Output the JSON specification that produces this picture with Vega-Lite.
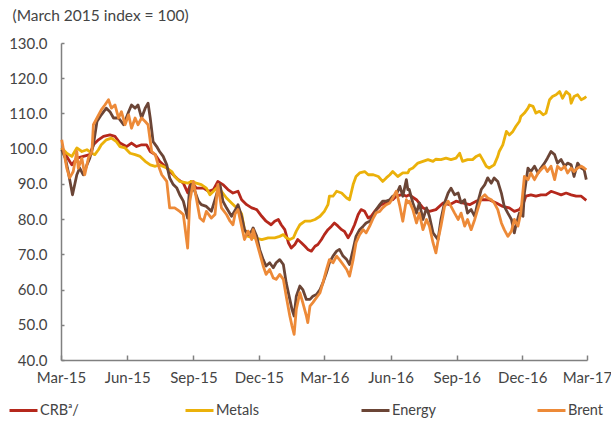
{
"$schema": "https://vega.github.io/schema/vega-lite/v6.json",
"width": 526, "height": 317,
"autosize": {"type": "none"},
"padding": {"left": 61, "top": 43, "right": 24, "bottom": 64},
"background": "white",
"config": {"view": {"stroke": null}, "font": "Lato"},
"data": {"values": [
{"d":"2015-03-02","s":"CRB","v":100.2},{"d":"2015-03-09","s":"CRB","v":97.8},{"d":"2015-03-16","s":"CRB","v":95.4},{"d":"2015-03-23","s":"CRB","v":97.3},{"d":"2015-04-01","s":"CRB","v":97.8},{"d":"2015-04-10","s":"CRB","v":98.3},{"d":"2015-04-15","s":"CRB","v":101.1},{"d":"2015-04-22","s":"CRB","v":102.5},{"d":"2015-04-29","s":"CRB","v":103.5},{"d":"2015-05-08","s":"CRB","v":103.9},{"d":"2015-05-15","s":"CRB","v":103.5},{"d":"2015-05-22","s":"CRB","v":101.6},{"d":"2015-05-31","s":"CRB","v":100.6},{"d":"2015-06-07","s":"CRB","v":101.6},{"d":"2015-06-14","s":"CRB","v":100.6},{"d":"2015-06-21","s":"CRB","v":101.1},{"d":"2015-06-28","s":"CRB","v":101.1},{"d":"2015-07-03","s":"CRB","v":99.2},{"d":"2015-07-10","s":"CRB","v":98.3},{"d":"2015-07-16","s":"CRB","v":96.4},{"d":"2015-07-26","s":"CRB","v":94.5},{"d":"2015-08-04","s":"CRB","v":92.6},{"d":"2015-08-11","s":"CRB","v":91.2},{"d":"2015-08-18","s":"CRB","v":90.2},{"d":"2015-08-24","s":"CRB","v":87.5},{"d":"2015-08-29","s":"CRB","v":90.7},{"d":"2015-09-05","s":"CRB","v":88.8},{"d":"2015-09-15","s":"CRB","v":88.8},{"d":"2015-09-22","s":"CRB","v":87.9},{"d":"2015-09-29","s":"CRB","v":88.4},{"d":"2015-10-05","s":"CRB","v":90.7},{"d":"2015-10-12","s":"CRB","v":89.8},{"d":"2015-10-19","s":"CRB","v":88.4},{"d":"2015-10-26","s":"CRB","v":87.4},{"d":"2015-11-02","s":"CRB","v":87.9},{"d":"2015-11-07","s":"CRB","v":85.5},{"d":"2015-11-14","s":"CRB","v":84.1},{"d":"2015-11-21","s":"CRB","v":83.2},{"d":"2015-11-28","s":"CRB","v":82.7},{"d":"2015-12-05","s":"CRB","v":80.8},{"d":"2015-12-11","s":"CRB","v":79.4},{"d":"2015-12-18","s":"CRB","v":78.4},{"d":"2015-12-23","s":"CRB","v":79.4},{"d":"2015-12-28","s":"CRB","v":79.9},{"d":"2016-01-01","s":"CRB","v":78.4},{"d":"2016-01-06","s":"CRB","v":77.0},{"d":"2016-01-11","s":"CRB","v":73.3},{"d":"2016-01-15","s":"CRB","v":71.8},{"d":"2016-01-20","s":"CRB","v":72.8},{"d":"2016-01-24","s":"CRB","v":74.2},{"d":"2016-01-29","s":"CRB","v":73.3},{"d":"2016-02-03","s":"CRB","v":72.3},{"d":"2016-02-07","s":"CRB","v":71.4},{"d":"2016-02-12","s":"CRB","v":70.9},{"d":"2016-02-17","s":"CRB","v":72.3},{"d":"2016-02-21","s":"CRB","v":72.8},{"d":"2016-02-26","s":"CRB","v":74.2},{"d":"2016-03-01","s":"CRB","v":75.6},{"d":"2016-03-06","s":"CRB","v":77.0},{"d":"2016-03-11","s":"CRB","v":78.0},{"d":"2016-03-15","s":"CRB","v":78.9},{"d":"2016-03-20","s":"CRB","v":78.0},{"d":"2016-03-25","s":"CRB","v":77.0},{"d":"2016-03-29","s":"CRB","v":76.5},{"d":"2016-04-03","s":"CRB","v":74.7},{"d":"2016-04-07","s":"CRB","v":76.1},{"d":"2016-04-12","s":"CRB","v":78.4},{"d":"2016-04-17","s":"CRB","v":81.3},{"d":"2016-04-21","s":"CRB","v":82.7},{"d":"2016-04-26","s":"CRB","v":82.2},{"d":"2016-05-01","s":"CRB","v":80.3},{"d":"2016-05-05","s":"CRB","v":80.8},{"d":"2016-05-10","s":"CRB","v":82.2},{"d":"2016-05-15","s":"CRB","v":83.2},{"d":"2016-05-19","s":"CRB","v":84.1},{"d":"2016-05-26","s":"CRB","v":84.6},{"d":"2016-05-31","s":"CRB","v":85.3},{"d":"2016-06-04","s":"CRB","v":85.5},{"d":"2016-06-09","s":"CRB","v":86.5},{"d":"2016-06-18","s":"CRB","v":87.0},{"d":"2016-06-23","s":"CRB","v":86.5},{"d":"2016-06-27","s":"CRB","v":86.9},{"d":"2016-07-07","s":"CRB","v":85.5},{"d":"2016-07-16","s":"CRB","v":83.2},{"d":"2016-07-25","s":"CRB","v":82.2},{"d":"2016-08-03","s":"CRB","v":82.7},{"d":"2016-08-13","s":"CRB","v":84.6},{"d":"2016-08-22","s":"CRB","v":84.1},{"d":"2016-08-31","s":"CRB","v":85.1},{"d":"2016-09-09","s":"CRB","v":84.6},{"d":"2016-09-19","s":"CRB","v":84.1},{"d":"2016-09-28","s":"CRB","v":85.1},{"d":"2016-10-07","s":"CRB","v":85.5},{"d":"2016-10-16","s":"CRB","v":85.5},{"d":"2016-10-26","s":"CRB","v":84.6},{"d":"2016-11-04","s":"CRB","v":83.6},{"d":"2016-11-13","s":"CRB","v":83.2},{"d":"2016-11-20","s":"CRB","v":82.2},{"d":"2016-11-27","s":"CRB","v":82.7},{"d":"2016-12-02","s":"CRB","v":84.1},{"d":"2016-12-06","s":"CRB","v":86.5},{"d":"2016-12-13","s":"CRB","v":86.9},{"d":"2016-12-20","s":"CRB","v":86.5},{"d":"2016-12-27","s":"CRB","v":86.9},{"d":"2017-01-03","s":"CRB","v":86.9},{"d":"2017-01-10","s":"CRB","v":87.9},{"d":"2017-01-17","s":"CRB","v":87.4},{"d":"2017-01-24","s":"CRB","v":86.9},{"d":"2017-01-31","s":"CRB","v":87.4},{"d":"2017-02-07","s":"CRB","v":86.9},{"d":"2017-02-14","s":"CRB","v":86.5},{"d":"2017-02-21","s":"CRB","v":86.5},{"d":"2017-02-28","s":"CRB","v":85.3},
{"d":"2015-03-02","s":"Metals","v":100.2},{"d":"2015-03-09","s":"Metals","v":98.7},{"d":"2015-03-16","s":"Metals","v":97.8},{"d":"2015-03-23","s":"Metals","v":100.2},{"d":"2015-03-30","s":"Metals","v":99.2},{"d":"2015-04-06","s":"Metals","v":99.7},{"d":"2015-04-13","s":"Metals","v":98.7},{"d":"2015-04-17","s":"Metals","v":98.3},{"d":"2015-04-22","s":"Metals","v":99.7},{"d":"2015-04-26","s":"Metals","v":101.1},{"d":"2015-05-03","s":"Metals","v":102.5},{"d":"2015-05-10","s":"Metals","v":103.0},{"d":"2015-05-17","s":"Metals","v":102.0},{"d":"2015-05-22","s":"Metals","v":100.6},{"d":"2015-05-29","s":"Metals","v":100.2},{"d":"2015-06-05","s":"Metals","v":98.7},{"d":"2015-06-12","s":"Metals","v":98.3},{"d":"2015-06-19","s":"Metals","v":97.8},{"d":"2015-06-26","s":"Metals","v":96.4},{"d":"2015-07-03","s":"Metals","v":95.4},{"d":"2015-07-10","s":"Metals","v":95.0},{"d":"2015-07-16","s":"Metals","v":95.4},{"d":"2015-07-26","s":"Metals","v":94.5},{"d":"2015-08-02","s":"Metals","v":93.5},{"d":"2015-08-06","s":"Metals","v":92.1},{"d":"2015-08-13","s":"Metals","v":90.7},{"d":"2015-08-24","s":"Metals","v":90.2},{"d":"2015-08-29","s":"Metals","v":90.7},{"d":"2015-09-05","s":"Metals","v":90.2},{"d":"2015-09-12","s":"Metals","v":89.8},{"d":"2015-09-19","s":"Metals","v":88.8},{"d":"2015-09-24","s":"Metals","v":86.9},{"d":"2015-09-29","s":"Metals","v":87.9},{"d":"2015-10-03","s":"Metals","v":88.8},{"d":"2015-10-10","s":"Metals","v":87.9},{"d":"2015-10-17","s":"Metals","v":86.0},{"d":"2015-10-24","s":"Metals","v":84.6},{"d":"2015-10-29","s":"Metals","v":83.6},{"d":"2015-11-02","s":"Metals","v":83.0},{"d":"2015-11-07","s":"Metals","v":81.5},{"d":"2015-11-11","s":"Metals","v":77.0},{"d":"2015-11-16","s":"Metals","v":75.1},{"d":"2015-11-25","s":"Metals","v":74.7},{"d":"2015-12-05","s":"Metals","v":74.2},{"d":"2015-12-14","s":"Metals","v":74.7},{"d":"2015-12-23","s":"Metals","v":74.7},{"d":"2015-12-30","s":"Metals","v":75.1},{"d":"2016-01-04","s":"Metals","v":75.6},{"d":"2016-01-08","s":"Metals","v":74.7},{"d":"2016-01-13","s":"Metals","v":74.2},{"d":"2016-01-18","s":"Metals","v":74.7},{"d":"2016-01-22","s":"Metals","v":76.6},{"d":"2016-01-27","s":"Metals","v":78.4},{"d":"2016-02-03","s":"Metals","v":79.4},{"d":"2016-02-10","s":"Metals","v":79.4},{"d":"2016-02-17","s":"Metals","v":79.9},{"d":"2016-02-24","s":"Metals","v":80.8},{"d":"2016-03-01","s":"Metals","v":82.2},{"d":"2016-03-06","s":"Metals","v":84.1},{"d":"2016-03-08","s":"Metals","v":86.5},{"d":"2016-03-13","s":"Metals","v":86.5},{"d":"2016-03-18","s":"Metals","v":87.9},{"d":"2016-03-25","s":"Metals","v":87.4},{"d":"2016-04-01","s":"Metals","v":86.0},{"d":"2016-04-05","s":"Metals","v":85.5},{"d":"2016-04-10","s":"Metals","v":89.8},{"d":"2016-04-14","s":"Metals","v":92.1},{"d":"2016-04-19","s":"Metals","v":93.1},{"d":"2016-04-26","s":"Metals","v":93.5},{"d":"2016-05-01","s":"Metals","v":92.6},{"d":"2016-05-08","s":"Metals","v":92.6},{"d":"2016-05-15","s":"Metals","v":92.1},{"d":"2016-05-21","s":"Metals","v":90.7},{"d":"2016-05-26","s":"Metals","v":91.7},{"d":"2016-05-31","s":"Metals","v":92.6},{"d":"2016-06-04","s":"Metals","v":93.5},{"d":"2016-06-11","s":"Metals","v":92.1},{"d":"2016-06-18","s":"Metals","v":93.1},{"d":"2016-06-25","s":"Metals","v":93.1},{"d":"2016-06-27","s":"Metals","v":94.0},{"d":"2016-07-02","s":"Metals","v":94.5},{"d":"2016-07-09","s":"Metals","v":95.9},{"d":"2016-07-16","s":"Metals","v":96.4},{"d":"2016-07-23","s":"Metals","v":96.9},{"d":"2016-07-30","s":"Metals","v":96.4},{"d":"2016-08-03","s":"Metals","v":97.0},{"d":"2016-08-10","s":"Metals","v":96.9},{"d":"2016-08-17","s":"Metals","v":97.3},{"d":"2016-08-24","s":"Metals","v":96.9},{"d":"2016-08-31","s":"Metals","v":97.3},{"d":"2016-09-05","s":"Metals","v":98.7},{"d":"2016-09-09","s":"Metals","v":96.4},{"d":"2016-09-16","s":"Metals","v":96.9},{"d":"2016-09-23","s":"Metals","v":96.9},{"d":"2016-09-28","s":"Metals","v":97.8},{"d":"2016-10-03","s":"Metals","v":98.3},{"d":"2016-10-07","s":"Metals","v":96.9},{"d":"2016-10-12","s":"Metals","v":95.0},{"d":"2016-10-16","s":"Metals","v":94.5},{"d":"2016-10-23","s":"Metals","v":95.4},{"d":"2016-10-28","s":"Metals","v":97.8},{"d":"2016-10-30","s":"Metals","v":99.2},{"d":"2016-11-04","s":"Metals","v":101.1},{"d":"2016-11-09","s":"Metals","v":104.9},{"d":"2016-11-13","s":"Metals","v":103.9},{"d":"2016-11-18","s":"Metals","v":104.9},{"d":"2016-11-22","s":"Metals","v":106.3},{"d":"2016-11-27","s":"Metals","v":107.7},{"d":"2016-11-29","s":"Metals","v":109.1},{"d":"2016-12-04","s":"Metals","v":110.1},{"d":"2016-12-09","s":"Metals","v":111.5},{"d":"2016-12-11","s":"Metals","v":112.4},{"d":"2016-12-16","s":"Metals","v":112.0},{"d":"2016-12-20","s":"Metals","v":110.1},{"d":"2016-12-25","s":"Metals","v":110.6},{"d":"2016-12-30","s":"Metals","v":109.6},{"d":"2017-01-03","s":"Metals","v":110.1},{"d":"2017-01-08","s":"Metals","v":113.9},{"d":"2017-01-12","s":"Metals","v":114.8},{"d":"2017-01-17","s":"Metals","v":115.3},{"d":"2017-01-22","s":"Metals","v":116.2},{"d":"2017-01-26","s":"Metals","v":114.3},{"d":"2017-01-31","s":"Metals","v":116.2},{"d":"2017-02-05","s":"Metals","v":115.3},{"d":"2017-02-07","s":"Metals","v":112.9},{"d":"2017-02-11","s":"Metals","v":114.8},{"d":"2017-02-16","s":"Metals","v":115.3},{"d":"2017-02-21","s":"Metals","v":113.9},{"d":"2017-02-25","s":"Metals","v":114.3},{"d":"2017-02-28","s":"Metals","v":114.8},
{"d":"2015-03-02","s":"Energy","v":99.7},{"d":"2015-03-07","s":"Energy","v":97.3},{"d":"2015-03-11","s":"Energy","v":93.5},{"d":"2015-03-17","s":"Energy","v":86.9},{"d":"2015-03-23","s":"Energy","v":92.6},{"d":"2015-03-27","s":"Energy","v":94.5},{"d":"2015-04-01","s":"Energy","v":92.6},{"d":"2015-04-06","s":"Energy","v":95.4},{"d":"2015-04-10","s":"Energy","v":97.3},{"d":"2015-04-15","s":"Energy","v":101.1},{"d":"2015-04-20","s":"Energy","v":107.7},{"d":"2015-04-26","s":"Energy","v":109.6},{"d":"2015-05-03","s":"Energy","v":111.5},{"d":"2015-05-08","s":"Energy","v":110.5},{"d":"2015-05-13","s":"Energy","v":108.7},{"d":"2015-05-20","s":"Energy","v":108.7},{"d":"2015-05-27","s":"Energy","v":106.8},{"d":"2015-06-03","s":"Energy","v":110.5},{"d":"2015-06-07","s":"Energy","v":112.4},{"d":"2015-06-12","s":"Energy","v":111.5},{"d":"2015-06-16","s":"Energy","v":112.4},{"d":"2015-06-21","s":"Energy","v":108.7},{"d":"2015-06-26","s":"Energy","v":111.5},{"d":"2015-06-30","s":"Energy","v":112.9},{"d":"2015-07-03","s":"Energy","v":108.7},{"d":"2015-07-07","s":"Energy","v":102.0},{"d":"2015-07-12","s":"Energy","v":100.6},{"d":"2015-07-16","s":"Energy","v":99.2},{"d":"2015-07-21","s":"Energy","v":97.8},{"d":"2015-07-26","s":"Energy","v":95.4},{"d":"2015-07-30","s":"Energy","v":91.7},{"d":"2015-08-04","s":"Energy","v":89.8},{"d":"2015-08-09","s":"Energy","v":88.8},{"d":"2015-08-13","s":"Energy","v":86.9},{"d":"2015-08-18","s":"Energy","v":85.1},{"d":"2015-08-24","s":"Energy","v":80.3},{"d":"2015-08-26","s":"Energy","v":86.9},{"d":"2015-08-29","s":"Energy","v":89.8},{"d":"2015-09-03","s":"Energy","v":87.9},{"d":"2015-09-08","s":"Energy","v":85.1},{"d":"2015-09-12","s":"Energy","v":84.1},{"d":"2015-09-19","s":"Energy","v":83.6},{"d":"2015-09-26","s":"Energy","v":82.2},{"d":"2015-10-03","s":"Energy","v":86.9},{"d":"2015-10-08","s":"Energy","v":89.8},{"d":"2015-10-12","s":"Energy","v":85.1},{"d":"2015-10-17","s":"Energy","v":83.2},{"d":"2015-10-24","s":"Energy","v":80.8},{"d":"2015-10-29","s":"Energy","v":82.5},{"d":"2015-11-02","s":"Energy","v":84.1},{"d":"2015-11-07","s":"Energy","v":80.8},{"d":"2015-11-11","s":"Energy","v":77.0},{"d":"2015-11-16","s":"Energy","v":75.6},{"d":"2015-11-21","s":"Energy","v":76.6},{"d":"2015-11-23","s":"Energy","v":77.5},{"d":"2015-11-28","s":"Energy","v":75.1},{"d":"2015-12-02","s":"Energy","v":71.4},{"d":"2015-12-07","s":"Energy","v":68.5},{"d":"2015-12-11","s":"Energy","v":66.7},{"d":"2015-12-16","s":"Energy","v":67.6},{"d":"2015-12-21","s":"Energy","v":66.2},{"d":"2015-12-25","s":"Energy","v":67.6},{"d":"2015-12-30","s":"Energy","v":68.5},{"d":"2016-01-04","s":"Energy","v":67.1},{"d":"2016-01-08","s":"Energy","v":61.9},{"d":"2016-01-13","s":"Energy","v":57.2},{"d":"2016-01-16","s":"Energy","v":54.4},{"d":"2016-01-19","s":"Energy","v":52.5},{"d":"2016-01-22","s":"Energy","v":58.1},{"d":"2016-01-27","s":"Energy","v":61.0},{"d":"2016-01-31","s":"Energy","v":60.0},{"d":"2016-02-05","s":"Energy","v":57.2},{"d":"2016-02-10","s":"Energy","v":57.2},{"d":"2016-02-14","s":"Energy","v":58.1},{"d":"2016-02-19","s":"Energy","v":58.6},{"d":"2016-02-24","s":"Energy","v":60.0},{"d":"2016-02-28","s":"Energy","v":61.9},{"d":"2016-03-04","s":"Energy","v":64.8},{"d":"2016-03-08","s":"Energy","v":67.6},{"d":"2016-03-13","s":"Energy","v":69.5},{"d":"2016-03-18","s":"Energy","v":70.9},{"d":"2016-03-22","s":"Energy","v":71.4},{"d":"2016-03-27","s":"Energy","v":69.5},{"d":"2016-04-01","s":"Energy","v":68.5},{"d":"2016-04-05","s":"Energy","v":67.1},{"d":"2016-04-10","s":"Energy","v":71.4},{"d":"2016-04-14","s":"Energy","v":75.1},{"d":"2016-04-19","s":"Energy","v":77.0},{"d":"2016-04-24","s":"Energy","v":78.0},{"d":"2016-04-28","s":"Energy","v":78.9},{"d":"2016-05-03","s":"Energy","v":79.4},{"d":"2016-05-08","s":"Energy","v":80.8},{"d":"2016-05-12","s":"Energy","v":82.7},{"d":"2016-05-17","s":"Energy","v":84.1},{"d":"2016-05-21","s":"Energy","v":85.1},{"d":"2016-05-26","s":"Energy","v":85.1},{"d":"2016-05-31","s":"Energy","v":85.5},{"d":"2016-06-04","s":"Energy","v":86.5},{"d":"2016-06-09","s":"Energy","v":87.0},{"d":"2016-06-14","s":"Energy","v":89.3},{"d":"2016-06-18","s":"Energy","v":86.5},{"d":"2016-06-23","s":"Energy","v":91.2},{"d":"2016-06-25","s":"Energy","v":88.4},{"d":"2016-06-27","s":"Energy","v":88.4},{"d":"2016-07-02","s":"Energy","v":84.6},{"d":"2016-07-07","s":"Energy","v":81.7},{"d":"2016-07-11","s":"Energy","v":84.6},{"d":"2016-07-16","s":"Energy","v":79.9},{"d":"2016-07-21","s":"Energy","v":83.2},{"d":"2016-07-25","s":"Energy","v":80.8},{"d":"2016-07-30","s":"Energy","v":76.1},{"d":"2016-08-06","s":"Energy","v":74.2},{"d":"2016-08-10","s":"Energy","v":79.9},{"d":"2016-08-15","s":"Energy","v":84.6},{"d":"2016-08-20","s":"Energy","v":87.4},{"d":"2016-08-24","s":"Energy","v":88.8},{"d":"2016-08-29","s":"Energy","v":86.9},{"d":"2016-09-03","s":"Energy","v":87.4},{"d":"2016-09-07","s":"Energy","v":84.6},{"d":"2016-09-12","s":"Energy","v":85.5},{"d":"2016-09-16","s":"Energy","v":81.7},{"d":"2016-09-21","s":"Energy","v":82.7},{"d":"2016-09-26","s":"Energy","v":80.8},{"d":"2016-09-30","s":"Energy","v":84.6},{"d":"2016-10-05","s":"Energy","v":88.4},{"d":"2016-10-10","s":"Energy","v":89.8},{"d":"2016-10-14","s":"Energy","v":91.7},{"d":"2016-10-19","s":"Energy","v":90.2},{"d":"2016-10-23","s":"Energy","v":91.7},{"d":"2016-10-28","s":"Energy","v":90.7},{"d":"2016-11-02","s":"Energy","v":87.4},{"d":"2016-11-06","s":"Energy","v":83.6},{"d":"2016-11-11","s":"Energy","v":81.7},{"d":"2016-11-16","s":"Energy","v":79.9},{"d":"2016-11-20","s":"Energy","v":76.1},{"d":"2016-11-22","s":"Energy","v":78.0},{"d":"2016-11-27","s":"Energy","v":81.7},{"d":"2016-12-02","s":"Energy","v":80.8},{"d":"2016-12-04","s":"Energy","v":87.4},{"d":"2016-12-09","s":"Energy","v":94.5},{"d":"2016-12-13","s":"Energy","v":93.5},{"d":"2016-12-18","s":"Energy","v":95.0},{"d":"2016-12-23","s":"Energy","v":93.1},{"d":"2016-12-27","s":"Energy","v":94.5},{"d":"2017-01-01","s":"Energy","v":95.9},{"d":"2017-01-05","s":"Energy","v":97.3},{"d":"2017-01-10","s":"Energy","v":99.2},{"d":"2017-01-15","s":"Energy","v":98.3},{"d":"2017-01-19","s":"Energy","v":95.9},{"d":"2017-01-24","s":"Energy","v":96.9},{"d":"2017-01-29","s":"Energy","v":95.0},{"d":"2017-02-02","s":"Energy","v":95.9},{"d":"2017-02-07","s":"Energy","v":95.4},{"d":"2017-02-11","s":"Energy","v":92.1},{"d":"2017-02-16","s":"Energy","v":95.9},{"d":"2017-02-21","s":"Energy","v":94.5},{"d":"2017-02-25","s":"Energy","v":94.0},{"d":"2017-02-28","s":"Energy","v":91.2},
{"d":"2015-03-02","s":"Brent","v":102.5},{"d":"2015-03-04","s":"Brent","v":100.2},{"d":"2015-03-09","s":"Brent","v":94.5},{"d":"2015-03-13","s":"Brent","v":91.7},{"d":"2015-03-18","s":"Brent","v":93.5},{"d":"2015-03-23","s":"Brent","v":99.2},{"d":"2015-03-25","s":"Brent","v":94.5},{"d":"2015-03-30","s":"Brent","v":97.3},{"d":"2015-04-03","s":"Brent","v":92.6},{"d":"2015-04-08","s":"Brent","v":97.3},{"d":"2015-04-13","s":"Brent","v":99.2},{"d":"2015-04-15","s":"Brent","v":106.8},{"d":"2015-04-20","s":"Brent","v":108.7},{"d":"2015-04-26","s":"Brent","v":111.0},{"d":"2015-05-01","s":"Brent","v":112.4},{"d":"2015-05-06","s":"Brent","v":113.9},{"d":"2015-05-10","s":"Brent","v":111.5},{"d":"2015-05-15","s":"Brent","v":112.4},{"d":"2015-05-20","s":"Brent","v":108.7},{"d":"2015-05-24","s":"Brent","v":110.5},{"d":"2015-05-29","s":"Brent","v":106.8},{"d":"2015-06-03","s":"Brent","v":109.6},{"d":"2015-06-07","s":"Brent","v":105.8},{"d":"2015-06-12","s":"Brent","v":108.7},{"d":"2015-06-16","s":"Brent","v":106.8},{"d":"2015-06-21","s":"Brent","v":108.7},{"d":"2015-06-26","s":"Brent","v":107.7},{"d":"2015-06-30","s":"Brent","v":106.8},{"d":"2015-07-05","s":"Brent","v":99.2},{"d":"2015-07-10","s":"Brent","v":98.3},{"d":"2015-07-14","s":"Brent","v":95.4},{"d":"2015-07-19","s":"Brent","v":92.6},{"d":"2015-07-26","s":"Brent","v":90.7},{"d":"2015-07-30","s":"Brent","v":83.2},{"d":"2015-08-06","s":"Brent","v":83.2},{"d":"2015-08-13","s":"Brent","v":82.2},{"d":"2015-08-18","s":"Brent","v":81.3},{"d":"2015-08-24","s":"Brent","v":71.8},{"d":"2015-08-27","s":"Brent","v":85.1},{"d":"2015-09-01","s":"Brent","v":90.7},{"d":"2015-09-05","s":"Brent","v":86.0},{"d":"2015-09-10","s":"Brent","v":80.3},{"d":"2015-09-15","s":"Brent","v":79.4},{"d":"2015-09-19","s":"Brent","v":82.2},{"d":"2015-09-26","s":"Brent","v":80.3},{"d":"2015-10-01","s":"Brent","v":81.3},{"d":"2015-10-05","s":"Brent","v":89.8},{"d":"2015-10-10","s":"Brent","v":83.2},{"d":"2015-10-17","s":"Brent","v":81.3},{"d":"2015-10-22","s":"Brent","v":79.4},{"d":"2015-10-26","s":"Brent","v":78.4},{"d":"2015-10-29","s":"Brent","v":81.5},{"d":"2015-11-02","s":"Brent","v":82.7},{"d":"2015-11-07","s":"Brent","v":78.0},{"d":"2015-11-11","s":"Brent","v":74.2},{"d":"2015-11-16","s":"Brent","v":76.6},{"d":"2015-11-21","s":"Brent","v":74.2},{"d":"2015-11-23","s":"Brent","v":77.0},{"d":"2015-11-28","s":"Brent","v":73.3},{"d":"2015-12-02","s":"Brent","v":70.4},{"d":"2015-12-07","s":"Brent","v":66.7},{"d":"2015-12-11","s":"Brent","v":64.3},{"d":"2015-12-16","s":"Brent","v":65.7},{"d":"2015-12-21","s":"Brent","v":63.3},{"d":"2015-12-25","s":"Brent","v":62.9},{"d":"2015-12-30","s":"Brent","v":64.3},{"d":"2016-01-04","s":"Brent","v":62.9},{"d":"2016-01-08","s":"Brent","v":58.1},{"d":"2016-01-13","s":"Brent","v":52.5},{"d":"2016-01-16","s":"Brent","v":49.7},{"d":"2016-01-19","s":"Brent","v":47.3},{"d":"2016-01-22","s":"Brent","v":54.4},{"d":"2016-01-27","s":"Brent","v":59.1},{"d":"2016-01-31","s":"Brent","v":56.3},{"d":"2016-02-05","s":"Brent","v":52.5},{"d":"2016-02-07","s":"Brent","v":50.6},{"d":"2016-02-10","s":"Brent","v":55.3},{"d":"2016-02-14","s":"Brent","v":56.3},{"d":"2016-02-19","s":"Brent","v":57.7},{"d":"2016-02-24","s":"Brent","v":59.1},{"d":"2016-02-28","s":"Brent","v":61.9},{"d":"2016-03-04","s":"Brent","v":65.7},{"d":"2016-03-08","s":"Brent","v":68.5},{"d":"2016-03-13","s":"Brent","v":67.6},{"d":"2016-03-18","s":"Brent","v":69.5},{"d":"2016-03-22","s":"Brent","v":68.5},{"d":"2016-03-27","s":"Brent","v":67.1},{"d":"2016-04-01","s":"Brent","v":65.7},{"d":"2016-04-05","s":"Brent","v":63.8},{"d":"2016-04-10","s":"Brent","v":68.5},{"d":"2016-04-14","s":"Brent","v":73.3},{"d":"2016-04-19","s":"Brent","v":75.6},{"d":"2016-04-24","s":"Brent","v":77.0},{"d":"2016-04-28","s":"Brent","v":76.1},{"d":"2016-05-03","s":"Brent","v":78.0},{"d":"2016-05-08","s":"Brent","v":80.3},{"d":"2016-05-12","s":"Brent","v":81.8},{"d":"2016-05-17","s":"Brent","v":82.2},{"d":"2016-05-21","s":"Brent","v":83.2},{"d":"2016-05-26","s":"Brent","v":84.1},{"d":"2016-05-31","s":"Brent","v":84.6},{"d":"2016-06-04","s":"Brent","v":86.0},{"d":"2016-06-09","s":"Brent","v":87.9},{"d":"2016-06-14","s":"Brent","v":83.6},{"d":"2016-06-18","s":"Brent","v":79.4},{"d":"2016-06-23","s":"Brent","v":85.5},{"d":"2016-06-25","s":"Brent","v":84.6},{"d":"2016-06-27","s":"Brent","v":85.1},{"d":"2016-07-02","s":"Brent","v":82.7},{"d":"2016-07-07","s":"Brent","v":78.9},{"d":"2016-07-11","s":"Brent","v":81.7},{"d":"2016-07-16","s":"Brent","v":77.0},{"d":"2016-07-21","s":"Brent","v":79.9},{"d":"2016-07-25","s":"Brent","v":78.0},{"d":"2016-07-30","s":"Brent","v":73.3},{"d":"2016-08-03","s":"Brent","v":70.4},{"d":"2016-08-07","s":"Brent","v":75.1},{"d":"2016-08-10","s":"Brent","v":78.0},{"d":"2016-08-15","s":"Brent","v":83.6},{"d":"2016-08-20","s":"Brent","v":85.1},{"d":"2016-08-24","s":"Brent","v":83.6},{"d":"2016-08-29","s":"Brent","v":81.7},{"d":"2016-09-03","s":"Brent","v":79.9},{"d":"2016-09-07","s":"Brent","v":81.7},{"d":"2016-09-12","s":"Brent","v":78.0},{"d":"2016-09-16","s":"Brent","v":79.9},{"d":"2016-09-21","s":"Brent","v":77.0},{"d":"2016-09-26","s":"Brent","v":79.9},{"d":"2016-09-30","s":"Brent","v":82.7},{"d":"2016-10-05","s":"Brent","v":86.0},{"d":"2016-10-10","s":"Brent","v":86.9},{"d":"2016-10-14","s":"Brent","v":86.0},{"d":"2016-10-19","s":"Brent","v":85.5},{"d":"2016-10-23","s":"Brent","v":84.6},{"d":"2016-10-28","s":"Brent","v":82.7},{"d":"2016-11-02","s":"Brent","v":78.9},{"d":"2016-11-06","s":"Brent","v":77.0},{"d":"2016-11-11","s":"Brent","v":75.1},{"d":"2016-11-16","s":"Brent","v":76.6},{"d":"2016-11-20","s":"Brent","v":79.9},{"d":"2016-11-25","s":"Brent","v":78.0},{"d":"2016-11-29","s":"Brent","v":81.7},{"d":"2016-12-04","s":"Brent","v":92.1},{"d":"2016-12-09","s":"Brent","v":91.2},{"d":"2016-12-13","s":"Brent","v":93.1},{"d":"2016-12-18","s":"Brent","v":91.2},{"d":"2016-12-23","s":"Brent","v":93.1},{"d":"2016-12-27","s":"Brent","v":94.0},{"d":"2017-01-01","s":"Brent","v":95.0},{"d":"2017-01-05","s":"Brent","v":93.5},{"d":"2017-01-10","s":"Brent","v":95.0},{"d":"2017-01-15","s":"Brent","v":91.2},{"d":"2017-01-19","s":"Brent","v":95.0},{"d":"2017-01-24","s":"Brent","v":94.0},{"d":"2017-01-29","s":"Brent","v":95.0},{"d":"2017-02-02","s":"Brent","v":93.1},{"d":"2017-02-07","s":"Brent","v":94.5},{"d":"2017-02-11","s":"Brent","v":93.5},{"d":"2017-02-16","s":"Brent","v":94.5},{"d":"2017-02-21","s":"Brent","v":95.0},{"d":"2017-02-25","s":"Brent","v":94.5},{"d":"2017-02-28","s":"Brent","v":94.0}
]},
"mark": {"type": "line", "strokeWidth": 2.8, "strokeJoin": "round"},
"encoding": {
  "x": {"field": "d", "type": "temporal",
    "scale": {"type": "utc", "domain": [{"year": 2015, "month": 3, "date": 1, "utc": true}, {"year": 2017, "month": 3, "date": 1, "utc": true}]},
    "axis": {"title": null, "format": "%b-%y", "grid": false,
      "values": [{"year": 2015, "month": 3, "date": 1, "utc": true}, {"year": 2015, "month": 6, "date": 1, "utc": true}, {"year": 2015, "month": 9, "date": 1, "utc": true}, {"year": 2015, "month": 12, "date": 1, "utc": true}, {"year": 2016, "month": 3, "date": 1, "utc": true}, {"year": 2016, "month": 6, "date": 1, "utc": true}, {"year": 2016, "month": 9, "date": 1, "utc": true}, {"year": 2016, "month": 12, "date": 1, "utc": true}, {"year": 2017, "month": 3, "date": 1, "utc": true}],
      "domainColor": "#808080", "domainWidth": 1.5, "tickColor": "#808080", "tickWidth": 1.5, "tickSize": -5,
      "labelPadding": 15, "labelFontSize": 15, "labelColor": "#444444", "labelFlush": false, "labelOverlap": false}},
  "y": {"field": "v", "type": "quantitative",
    "scale": {"domain": [40, 130], "nice": false, "zero": false},
    "axis": {"title": "(March 2015 index = 100)", "titleAngle": 0, "titleAlign": "left", "titleBaseline": "middle", "titleX": -49, "titleY": -28, "titleFontSize": 15.5, "titleFontWeight": "normal", "titleColor": "#444444",
      "values": [40, 50, 60, 70, 80, 90, 100, 110, 120, 130], "format": ".1f", "grid": false,
      "domainColor": "#808080", "domainWidth": 1.5, "tickColor": "#808080", "tickWidth": 1.5, "tickSize": -3,
      "labelPadding": 17, "labelFontSize": 15, "labelColor": "#444444", "labelFlush": false, "labelOverlap": false}},
  "color": {"field": "s", "type": "nominal",
    "scale": {"domain": ["CRB", "Metals", "Energy", "Brent"], "range": ["#B5281C", "#EBB10A", "#6B4536", "#ED8A38"]},
    "legend": {"title": null, "orient": "none", "legendX": -53, "legendY": 352, "direction": "horizontal", "columns": 4, "gridAlign": "all", "columnPadding": 94,
      "symbolType": "stroke", "symbolSize": 784, "symbolStrokeWidth": 3, "labelFontSize": 14.5, "labelColor": "#444444", "labelOffset": 1,
      "labelExpr": "datum.label == 'CRB' ? 'CRBᵃ/' : datum.label"}}
}
}
